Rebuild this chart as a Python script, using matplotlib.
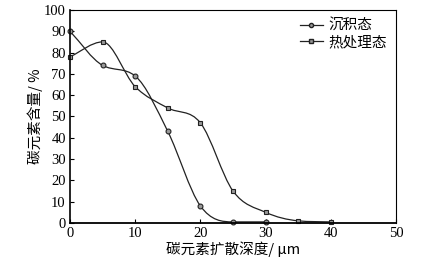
import numpy as np
import matplotlib
matplotlib.use("Agg")
import matplotlib.pyplot as plt
from matplotlib.path import Path
from matplotlib.patches import PathPatch
from matplotlib.lines import Line2D

depth_dep = [0, 5, 10, 15, 20, 25, 30]
carbon_dep = [90, 74, 69, 43, 8, 0.5, 0.5]
depth_heat = [0, 5, 10, 15, 20, 25, 30, 35, 40]
carbon_heat = [78, 85, 64, 54, 47, 15, 5, 1, 0.5]
labels = ["沉积态", "热处理态"]
xticks = [0, 10, 20, 30, 40, 50]
yticks = list(range(0, 101, 10))

plt.rcParams['font.family'] = ['Liberation Serif', 'Noto Sans CJK SC']
plt.rcParams['mathtext.fontset'] = 'stix'

fig = plt.figure(figsize=(4.24, 2.62), dpi=100)
ax = fig.add_axes([0.165, 0.149, 0.769, 0.813])


def smooth_path(x, y):
    """Monotone (Fritsch-Carlson) cubic through the given points as Bezier path."""
    x = np.asarray(x, float); y = np.asarray(y, float)
    n = len(x)
    h = np.diff(x)
    d = np.diff(y) / h
    m = np.zeros(n)
    m[0] = d[0]; m[-1] = d[-1]
    for k in range(1, n - 1):
        if d[k - 1] * d[k] <= 0:
            m[k] = 0
        else:
            m[k] = (d[k - 1] + d[k]) / 2
    for k in range(n - 1):
        if d[k] == 0:
            m[k] = m[k + 1] = 0
            continue
        a = m[k] / d[k]; b = m[k + 1] / d[k]
        s = a * a + b * b
        if s > 9:
            t = 3 / np.sqrt(s)
            m[k] = t * a * d[k]; m[k + 1] = t * b * d[k]
    verts = [(x[0], y[0])]
    codes = [Path.MOVETO]
    for i in range(n - 1):
        c1 = (x[i] + h[i] / 3, y[i] + m[i] * h[i] / 3)
        c2 = (x[i + 1] - h[i] / 3, y[i + 1] - m[i + 1] * h[i] / 3)
        verts += [c1, c2, (x[i + 1], y[i + 1])]
        codes += [Path.CURVE4] * 3
    return Path(verts, codes)

for xs, ys, mk in [(depth_dep, carbon_dep, 'o'), (depth_heat, carbon_heat, 's')]:
    ax.add_patch(PathPatch(smooth_path(xs, ys), fill=False, lw=0.9, ec='#222222'))
    ax.plot(xs, ys, ls='none', marker=mk, ms=3.5, mfc='#999999', mec='#222222', mew=0.8, clip_on=False)

ax.set_xlim(0, 50)
ax.set_ylim(0, 100)
ax.set_xticks(xticks)
ax.set_yticks(yticks)
ax.tick_params(direction='in', length=3, labelsize=10.5, pad=3)
for s in ax.spines.values():
    s.set_linewidth(0.8)
ax.spines['bottom'].set_linewidth(1.3)
ax.spines['left'].set_linewidth(1.2)

ax.set_xlabel("碳元素扩散深度/ μm", fontsize=10.5, labelpad=1,
              family=['Noto Sans CJK SC', 'Liberation Serif'])
ax.set_ylabel("碳元素含量/ %", fontsize=10.5, labelpad=1,
              family=['Noto Sans CJK SC', 'Liberation Serif'])

handles = [Line2D([], [], color='#222222', lw=0.9, marker='o', ms=3, mfc='#999999', mec='#222222'),
           Line2D([], [], color='#222222', lw=0.9, marker='s', ms=3, mfc='#999999', mec='#222222')]
ax.legend(handles, labels, loc='upper right', frameon=False,
          handlelength=1.6, handletextpad=0.4, borderaxespad=0.2, labelspacing=0.15,
          prop={'family': ['Noto Sans CJK SC'], 'size': 10.5})

fig.savefig("out.png", dpi=100)
